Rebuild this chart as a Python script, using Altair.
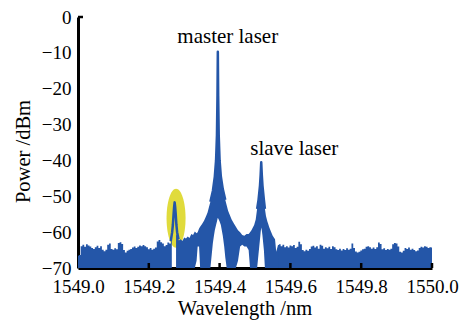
import altair as alt
import pandas as pd

BLUE = "#2456a8"
YELLOW = "#e0db3c"
FONT = "Liberation Serif"

# ---- noise floor left of the weak side mode: 1549.000 .. 1549.265, step 0.005 (upper envelope, dBm)
left_start, left_step = 1549.000, 0.005
left_hi = [-66.6, -66.4, -63.9, -63.5, -64.1, -63.4, -63.7, -64.0, -64.4, -64.7,
           -64.2, -63.8, -64.4, -63.9, -64.9, -65.3, -64.9, -63.5, -63.2, -64.7,
           -64.9, -64.5, -64.8, -63.0, -62.8, -63.3, -65.0, -65.7, -65.2, -64.9,
           -64.7, -64.3, -64.0, -64.4, -64.1, -63.7, -63.9, -63.6, -63.9, -64.2,
           -64.8, -64.4, -64.9, -64.6, -64.3, -62.6, -62.2, -62.8, -63.2, -63.9,
           -63.6, -62.9, -63.2, -62.5]

# ---- noise floor right of the slave laser: 1549.565 .. 1550.000, step 0.005
right_start, right_step = 1549.565, 0.005
right_hi = [-63.6, -63.4, -63.9, -63.5, -64.2, -63.9, -64.3, -63.7, -63.9, -63.6,
            -64.4, -64.1, -62.7, -63.4, -65.0, -65.3, -64.9, -65.2, -64.7, -64.0,
            -63.8, -64.3, -63.9, -64.6, -63.5, -63.8, -64.6, -64.2, -64.5, -64.1,
            -64.7, -63.9, -64.2, -64.8, -65.0, -64.6, -65.1, -64.7, -65.0, -64.5,
            -64.9, -64.6, -63.2, -64.4, -65.4, -65.7, -65.5, -65.1, -64.8, -64.6,
            -64.1, -63.9, -64.2, -64.6, -64.3, -64.7, -64.2, -62.9, -63.3, -64.8,
            -64.5, -65.0, -64.7, -64.9, -64.6, -63.4, -63.0, -63.2, -64.0, -65.5,
            -65.7, -65.2, -64.4, -64.7, -64.3, -64.9, -64.6, -65.0, -65.3, -65.1,
            -64.4, -64.1, -64.3, -63.9, -64.1, -64.4, -64.2, -64.3]
floor_lo = -70.0

# ---- trace envelope from the side mode through master and slave laser (upper / lower edge, dBm)
mid_x = [1549.277, 1549.280, 1549.285, 1549.290, 1549.295, 1549.300, 1549.305, 1549.310,
         1549.315, 1549.320, 1549.325, 1549.330, 1549.335, 1549.338, 1549.342, 1549.345,
         1549.350, 1549.356, 1549.362, 1549.366, 1549.370, 1549.374, 1549.378, 1549.381,
         1549.384, 1549.3865, 1549.390, 1549.3925, 1549.394, 1549.395, 1549.396, 1549.3975,
         1549.400, 1549.4035, 1549.409, 1549.413, 1549.416, 1549.420, 1549.424, 1549.428,
         1549.434, 1549.440, 1549.446, 1549.452, 1549.458, 1549.464, 1549.470, 1549.476,
         1549.482, 1549.486, 1549.490, 1549.4976, 1549.502, 1549.506, 1549.510, 1549.5141,
         1549.516, 1549.5176, 1549.5192, 1549.5211, 1549.5251, 1549.528, 1549.531, 1549.535,
         1549.5376, 1549.540, 1549.545, 1549.550, 1549.5566, 1549.560, 1549.565]
mid_hi = [-60.5, -61.0, -62.3, -62.0, -62.5, -61.5, -61.8, -61.2,
          -61.6, -60.5, -60.8, -59.8, -60.3, -60.0, -59.0, -58.5,
          -57.8, -56.8, -55.5, -54.5, -53.0, -51.5, -50.0, -48.5,
          -46.5, -44.5, -40.0, -33.0, -22.0, -9.7, -22.0, -33.0,
          -40.0, -44.5, -48.0, -49.8, -51.0, -52.5, -54.0, -55.0,
          -56.5, -57.5, -58.5, -59.5, -60.0, -60.8, -61.0, -60.5,
          -60.5, -60.0, -59.5, -58.0, -56.5, -53.5, -51.0, -47.0,
          -44.0, -40.5, -44.0, -47.0, -51.0, -53.5, -55.5, -57.0,
          -57.8, -58.6, -59.8, -61.0, -62.0, -65.5, -63.6]
mid_lo = [-70, -70, -70, -70, -70, -70, -70, -70,
          -70, -70, -70, -70, -68, -64, -64, -70,
          -70, -70, -70, -70, -70, -70, -66, -63,
          -61, -59.5, -58, -57, -56.3, -56, -56.2, -56.5,
          -57, -58, -61, -64, -67, -70, -70, -70,
          -70, -70, -70, -68, -64, -63.5, -64, -64,
          -65, -70, -70, -70, -70, -70, -66, -62,
          -60, -58.7, -59.5, -61, -65, -70, -70, -70,
          -70, -70, -70, -70, -70, -70, -70]

# ---- peak traces (line centre)
side_x = [1549.262, 1549.266, 1549.268, 1549.270, 1549.2715, 1549.273, 1549.2745,
          1549.276, 1549.278, 1549.280, 1549.284]
side_p = [-62.5, -60.0, -58.0, -55.0, -53.0, -51.7, -53.0, -55.0, -58.0, -60.0, -62.0]

master_x = [1549.374, 1549.381, 1549.3865, 1549.390, 1549.3925, 1549.394,
            1549.395, 1549.396, 1549.3975, 1549.400, 1549.4035, 1549.409, 1549.416]
master_p = [-51.5, -48.5, -44.5, -40.0, -33.0, -22.0, -9.7, -22.0, -33.0, -40.0,
            -44.5, -48.0, -51.0]

slave_x = [1549.506, 1549.510, 1549.5141, 1549.516, 1549.5176, 1549.5192,
           1549.5211, 1549.5251, 1549.528]
slave_p = [-53.5, -51.0, -47.0, -44.0, -40.5, -44.0, -47.0, -51.0, -53.5]

# ---- highlight around side mode
mark_x = [1549.277]
mark_y = [-56.1]

# ---- annotations
labels = ["master laser", "slave laser"]
label_x = [1549.423, 1549.611]
label_y = [-7.3, -38.6]

# ---- axes
x_ticks = [1549.0, 1549.2, 1549.4, 1549.6, 1549.8, 1550.0]
y_ticks = [0, -10, -20, -30, -40, -50, -60, -70]
x_inner_ticks = [1549.2, 1549.4, 1549.6, 1549.8, 1550.0]
y_inner_ticks = [0]

# ---------------- tables ----------------
step_rows = []
for i, v in enumerate(left_hi):
    step_rows.append({"wl": round(left_start + i * left_step, 4), "hi": v, "lo": floor_lo, "seg": "A"})
for i, v in enumerate(right_hi):
    step_rows.append({"wl": round(right_start + i * right_step, 4), "hi": v, "lo": floor_lo, "seg": "E"})
step_df = pd.DataFrame(step_rows)

lin_df = pd.DataFrame({"wl": mid_x, "hi": mid_hi, "lo": mid_lo})

peak_rows = []
for name, xs, ps in [("side", side_x, side_p), ("master", master_x, master_p), ("slave", slave_x, slave_p)]:
    for x, p in zip(xs, ps):
        peak_rows.append({"wl": x, "p": p, "peak": name})
peak_df = pd.DataFrame(peak_rows)

mark_df = pd.DataFrame({"wl": mark_x, "p": mark_y})
label_df = pd.DataFrame({"wl": label_x, "p": label_y, "txt": labels})
xt_df = pd.DataFrame({"wl": x_inner_ticks})
yt_df = pd.DataFrame({"p": y_inner_ticks})

W, H = 354, 251

xscale = alt.Scale(domain=[1549.0, 1550.0], nice=False, zero=False)
yscale = alt.Scale(domain=[-70, 0], nice=False)

AX = dict(domainColor="black", domainWidth=3, labelColor="black", labelFont=FONT,
          labelFontSize=19, titleColor="black", titleFont=FONT, titleFontSize=20.5,
          titleFontWeight="normal", ticks=False, grid=False)

xaxis = alt.Axis(values=x_ticks, format=".1f", title="Wavelength /nm",
                 labelPadding=9, labelFlush=False,
                 titleX=166.5, titleY=46, titleAlign="center", titleBaseline="alphabetic", **AX)
yaxis = alt.Axis(values=y_ticks, format="d", title="Power /dBm",
                 labelPadding=7, titleX=-55, titleY=134,
                 titleBaseline="middle", titleAlign="center", **AX)


def X(field="wl"):
    return alt.X(f"{field}:Q", scale=xscale, axis=xaxis)


def Y(field):
    return alt.Y(f"{field}:Q", scale=yscale, axis=yaxis)


ELL = "M0,-1A0.322,1,0,1,1,0,1A0.322,1,0,1,1,0,-1Z"
ellipse = alt.Chart(mark_df).mark_point(shape=ELL, size=3481, filled=True, color=YELLOW,
                                         opacity=1, strokeWidth=0).encode(x=X(), y=Y("p"))

band_step = alt.Chart(step_df).mark_area(interpolate="step", color=BLUE, opacity=1).encode(
    x=X(), y=Y("hi"), y2="lo:Q", detail="seg:N")
band_lin = alt.Chart(lin_df).mark_area(color=BLUE, opacity=1).encode(
    x=X(), y=Y("hi"), y2="lo:Q")
peaks = alt.Chart(peak_df).mark_line(color=BLUE, strokeWidth=2.5, strokeJoin="round").encode(
    x=X(), y=Y("p"), detail="peak:N")

xticks_in = alt.Chart(xt_df).mark_rule(color="black", strokeWidth=2.5).encode(
    x=X(), y=alt.value(H), y2=alt.value(H - 5))
yticks_in = alt.Chart(yt_df).mark_rule(color="black", strokeWidth=2.5).encode(
    y=Y("p"), x=alt.value(0), x2=alt.value(5))

texts = alt.Chart(label_df).mark_text(font=FONT, fontSize=21, color="black",
                                      align="center", baseline="alphabetic").encode(
    x=X(), y=Y("p"), text="txt:N")

chart = alt.layer(ellipse, band_step, band_lin, peaks, xticks_in, yticks_in, texts).properties(
    width=W, height=H,
    autosize=alt.AutoSizeParams(type="none"),
    padding={"left": 70, "top": 9, "right": 27, "bottom": 52},
).configure_view(stroke=None)

chart.save("out.html", embed_options={"renderer": "svg", "actions": False})
